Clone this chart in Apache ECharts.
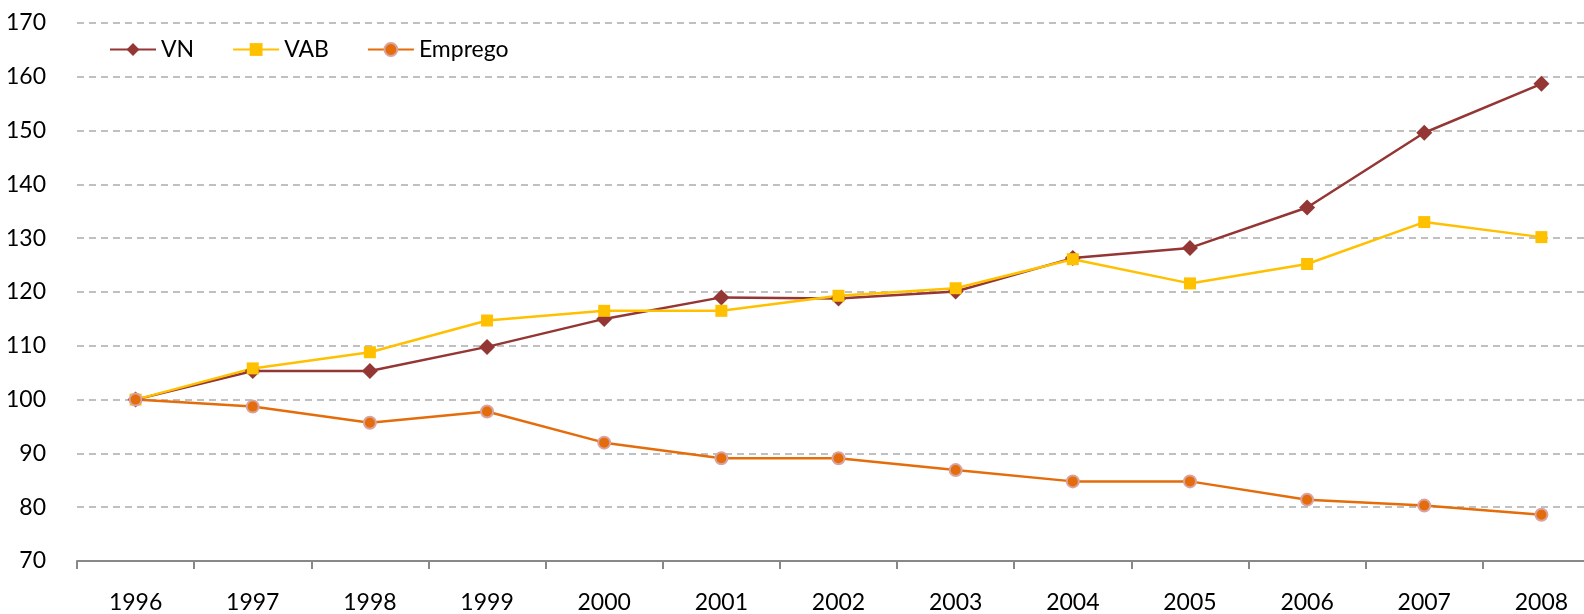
<!DOCTYPE html>
<html style="height: 100%">
<head>
<meta charset="utf-8">
</head>
<body style="height: 100%; margin: 0; background: #fff; overflow: hidden">
<!-- o grafico original esta cortado a direita: o contentor e mais largo que a janela -->
<div id="container" style="width: 1600px; height: 614px"></div>
<script src="https://cdn.jsdelivr.net/npm/echarts@6/dist/echarts.min.js"></script>
<script>
var anos = ['1996', '1997', '1998', '1999', '2000', '2001', '2002', '2003', '2004', '2005', '2006', '2007', '2008'];
var vn = [100, 105.3, 105.3, 109.8, 115, 119, 118.8, 120.1, 126.3, 128.2, 135.7, 149.6, 158.7];
var vab = [100, 105.8, 108.8, 114.7, 116.5, 116.5, 119.3, 120.7, 126.1, 121.6, 125.2, 133, 130.2];
var emprego = [100, 98.7, 95.7, 97.8, 92, 89.1, 89.1, 86.9, 84.8, 84.8, 81.4, 80.3, 78.6];

var fonte = 'Lato, "DejaVu Sans", sans-serif';
var myChart = echarts.init(document.getElementById('container'));

var option = {
  animation: false,
  textStyle: { fontFamily: fonte },
  grid: { left: 77, right: 0, top: 23, bottom: 53 },
  legend: {
    left: 104, top: 33,
    itemWidth: 46, itemHeight: 16, itemGap: 38,
    textStyle: { fontSize: 23, color: '#000', fontFamily: fonte },
    data: ['VN', 'VAB', 'Emprego']
  },
  xAxis: {
    type: 'category',
    data: anos,
    boundaryGap: true,
    axisLine: { lineStyle: { color: '#888888', width: 2 } },
    axisTick: { show: true, inside: false, length: 8, lineStyle: { color: '#888888', width: 2 } },
    axisLabel: { fontSize: 23, color: '#000', margin: 30 }
  },
  yAxis: {
    type: 'value',
    min: 70, max: 170, interval: 10,
    axisLine: { show: false },
    axisTick: { show: false },
    axisLabel: { fontSize: 23, color: '#000', margin: 31 },
    splitLine: { lineStyle: { color: '#C0C0C0', type: [7, 5], width: 2 } }
  },
  series: [
    {
      name: 'VN', type: 'line', data: vn,
      symbol: 'diamond', symbolSize: 16,
      lineStyle: { color: '#943634', width: 2.5 },
      itemStyle: { color: '#943634' }
    },
    {
      name: 'VAB', type: 'line', data: vab,
      symbol: 'rect', symbolSize: 12,
      lineStyle: { color: '#FFC000', width: 2.5 },
      itemStyle: { color: '#FFC000' }
    },
    {
      name: 'Emprego', type: 'line', data: emprego,
      symbol: 'circle', symbolSize: 12,
      lineStyle: { color: '#E46C0A', width: 2.5 },
      itemStyle: { color: '#E46C0A', borderColor: '#D9A3A0', borderWidth: 2 }
    }
  ]
};

myChart.setOption(option);
</script>
</body>
</html>
